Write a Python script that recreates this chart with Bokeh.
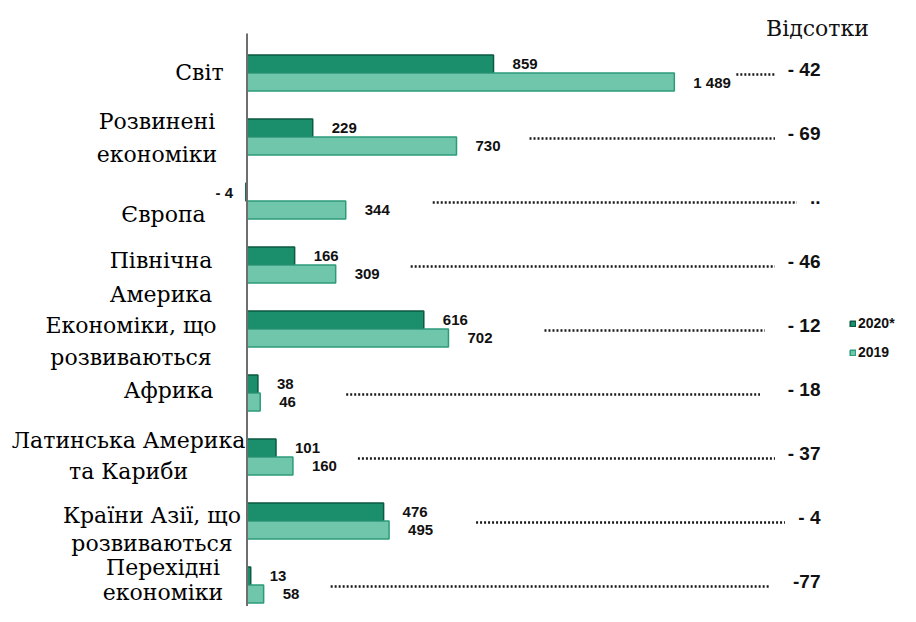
from bokeh.plotting import figure
from bokeh.models import ColumnDataSource, Range1d, Legend, LegendItem, Label
from bokeh.transform import dodge
from bokeh.core.properties import value
from bokeh.embed import file_html
from bokeh.resources import INLINE

# ---------------- data ----------------
categories = ["Світ", "Розвинені економіки", "Європа", "Північна Америка",
              "Економіки, що розвиваються", "Африка", "Латинська Америка та Кариби",
              "Країни Азії, що розвиваються", "Перехідні економіки"]
category_lines = [["Світ"], ["Розвинені", "економіки"], ["Європа"], ["Північна", "Америка"],
                  ["Економіки, що", "розвиваються"], ["Африка"], ["Латинська Америка", "та Кариби"],
                  ["Країни Азії, що", "розвиваються"], ["Перехідні", "економіки"]]
values_2020 = [859, 229, -4, 166, 616, 38, 101, 476, 13]
values_2019 = [1489, 730, 344, 309, 702, 46, 160, 495, 58]
percent_labels = ["- 42", "- 69", "..", "- 46", "- 12", "- 18", "- 37", "- 4", "-77"]
series_names = ["2020*", "2019"]
units_title = "Відсотки"

# ---------------- layout / style ----------------
W, H = 900, 606
PX_PER_UNIT = 0.287          # horizontal pixels per value unit
ZERO_PX = 246.5              # frame x of value 0
ROW_PX = 64.0                # pixels between rows
ROW0_PX = 72.5               # frame y (from top) of the first row centre
x_start = -ZERO_PX / PX_PER_UNIT
x_end = (W - ZERO_PX) / PX_PER_UNIT
y_end = ROW0_PX / ROW_PX
y_start = y_end - H / ROW_PX
bar_h = 18 / ROW_PX

# category label layout: (centre x offset from axis in px, vertical offsets of each line in px)
label_layout = [(-47.5, [-1]), (-90, [-16, 17]), (-83.5, [13]), (-86, [-5, 29]),
                (-116, [-4, 28]), (-78.5, [-3]), (-118.5, [-17, 14]),
                (-95, [-6, 22]), (-84, [-18, 7])]
leader_gap_px = [62, 73, 87, 75, 96, 86, 65, 87, 67]
leader_end_px = [528, 528, 550, 528, 518, 513, 528, 538, 523]   # from axis
pct_right_px = 573.5                                                # from axis

C2020_FILL, C2020_LINE = "#1b8f6c", "#0b5a42"
C2019_FILL, C2019_LINE = "#6fc6aa", "#2d9b79"
SERIF = "DejaVu Serif"
SANS = "Liberation Sans"

rows = [-i for i in range(len(categories))]

p = figure(width=W, height=H, x_range=Range1d(x_start, x_end), y_range=Range1d(y_start, y_end),
           x_axis_location=None, y_axis_location=None, toolbar_location=None,
           output_backend="svg", min_border=0, outline_line_color=None)
p.grid.grid_line_color = None

src = ColumnDataSource(dict(y=rows, v2020=values_2020, v2019=values_2019))

r2020 = p.hbar(y=dodge("y", bar_h / 2, range=p.y_range), left=0, right="v2020", height=bar_h,
               source=src, fill_color=C2020_FILL, line_color=C2020_LINE, line_width=1.5)
r2019 = p.hbar(y=dodge("y", -bar_h / 2, range=p.y_range), left=0, right="v2019", height=bar_h,
               source=src, fill_color=C2019_FILL, line_color=C2019_LINE, line_width=1.5)

# vertical axis line
p.segment(x0=0, y0=(ROW0_PX - 33) / ROW_PX, x1=0, y1=y_start, line_color="#6e6e6e", line_width=2)


def fmt(v):
    s = f"{abs(v):,}".replace(",", " ")
    return ("- " + s) if v < 0 else s


# value labels
lx, ly, lt, lo, la = [], [], [], [], []
for i, (a, b) in enumerate(zip(values_2020, values_2019)):
    for v, dy in ((a, bar_h / 2), (b, -bar_h / 2)):
        lx.append(v if v >= 0 else 0)
        ly.append(rows[i] + dy)
        lt.append(fmt(v))
        lo.append(19 if v >= 0 else -14)
        la.append("left" if v >= 0 else "right")
p.text(x="x", y="y", text="t", x_offset="o", text_align="a",
       source=ColumnDataSource(dict(x=lx, y=ly, t=lt, o=lo, a=la)),
       text_font=value(SANS), text_font_style="bold", text_font_size="15px", text_baseline="middle",
       text_color="#111111")

# category labels
cx, cy, ct, cxo, cyo = [], [], [], [], []
for i, lines in enumerate(category_lines):
    xo, dys = label_layout[i]
    for line, dy in zip(lines, dys):
        cx.append(0); cy.append(rows[i]); ct.append(line); cxo.append(xo); cyo.append(dy)
p.text(x="x", y="y", text="t", x_offset="xo", y_offset="yo",
       source=ColumnDataSource(dict(x=cx, y=cy, t=ct, xo=cxo, yo=cyo)),
       text_font=value(SERIF), text_font_size="22px", text_align="center", text_baseline="middle",
       text_color="#000000")

# dotted leaders
x0s = [max(a, b) + g / PX_PER_UNIT for a, b, g in zip(values_2020, values_2019, leader_gap_px)]
x1s = [e / PX_PER_UNIT for e in leader_end_px]
ys = [r - 1.5 / ROW_PX for r in rows]
p.segment(x0=x0s, y0=ys, x1=x1s, y1=ys, line_color="#1a1a1a", line_width=2.6, line_dash="2 2")

# percentage labels
p.text(x=[pct_right_px / PX_PER_UNIT] * len(rows), y=rows, text=percent_labels, y_offset=-4,
       text_font=value(SANS), text_font_style="bold", text_font_size="19px", text_align="right",
       text_baseline="middle", text_color="#111111")

p.add_layout(Label(x=817, y=606 - 28, x_units="screen", y_units="screen", text=units_title,
                   text_font=SERIF, text_font_size="22px", text_align="center",
                   text_baseline="middle", text_color="#111111"))

legend = Legend(items=[LegendItem(label=series_names[0], renderers=[r2020]),
                       LegendItem(label=series_names[1], renderers=[r2019])],
                location=(849, 244), glyph_width=7, glyph_height=7, label_height=20, spacing=9,
                padding=0, margin=0, label_standoff=2, border_line_color=None, background_fill_alpha=0,
                label_text_font=SANS, label_text_font_style="bold", label_text_font_size="14px",
                label_text_color="#111111")
p.add_layout(legend, "center")

open("out.html", "w").write(file_html(p, INLINE))
